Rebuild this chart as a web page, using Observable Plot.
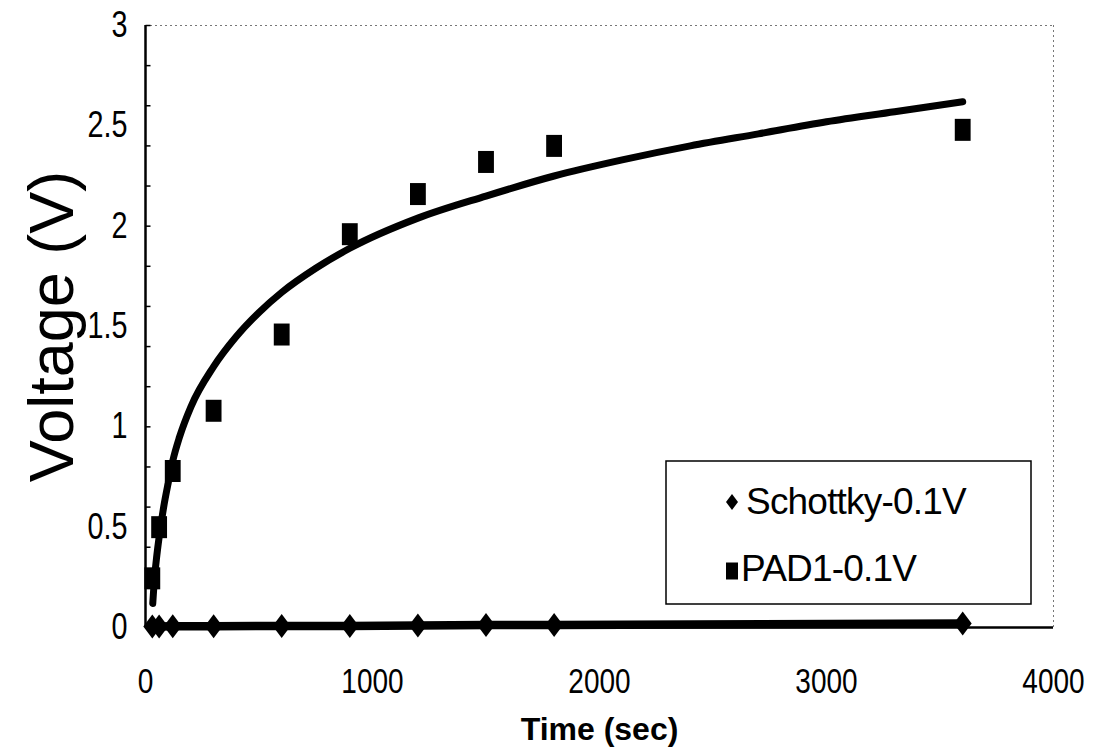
<!DOCTYPE html>
<html>
<head>
<meta charset="utf-8">
<script src="https://cdn.jsdelivr.net/npm/d3@7"></script>
<script src="https://cdn.jsdelivr.net/npm/@observablehq/plot@0.6"></script>
<style>
  html, body { margin: 0; padding: 0; background: #fff; }
  #chart { position: relative; width: 1107px; height: 754px; }
</style>
</head>
<body>
<div id="chart"></div>
<script>
// ---- data ----
const times = [30, 60, 120, 300, 600, 900, 1200, 1500, 1800, 3600];
const schottkyV = [0.005, 0.005, 0.006, 0.006, 0.008, 0.008, 0.01, 0.012, 0.012, 0.02];
const pad1V = [0.245, 0.50, 0.78, 1.08, 1.46, 1.96, 2.16, 2.32, 2.40, 2.48];

// trend curve through PAD1
const trendT = [32, 40, 50, 60, 80, 100, 120, 150, 200, 300, 400, 500, 600, 750, 900, 1200, 1500, 1800, 2100, 2400, 2700, 3000, 3300, 3600];
const trendV = [0.12, 0.25, 0.36, 0.45, 0.60, 0.72, 0.83, 0.95, 1.10, 1.30, 1.45, 1.57, 1.67, 1.79, 1.89, 2.04, 2.15, 2.25, 2.33, 2.40, 2.46, 2.52, 2.57, 2.62];

const xTicks = [0, 1000, 2000, 3000, 4000];
const yTicks = [0, 0.5, 1, 1.5, 2, 2.5, 3];
const yMinorTicks = d3.range(0, 3.001, 0.2);

const seriesNames = ["Schottky-0.1V", "PAD1-0.1V"];
const xLabel = "Time (sec)";
const yLabel = "Voltage (V)";

const schottky = times.map((t, i) => ({t, v: schottkyV[i]}));
const pad1 = times.map((t, i) => ({t, v: pad1V[i]}));
const trend = trendT.map((t, i) => ({t, v: trendV[i]}));

// custom symbols (taller than wide, as in the reference)
const tallDiamond = {
  draw(ctx, size) {
    const r = Math.sqrt(size / Math.PI);
    const w = r * 0.75, h = r;
    ctx.moveTo(0, -h); ctx.lineTo(w, 0); ctx.lineTo(0, h); ctx.lineTo(-w, 0); ctx.closePath();
  }
};
const tallSquare = {
  draw(ctx, size) {
    const r = Math.sqrt(size / Math.PI);
    const w = r * 0.72, h = r;
    ctx.moveTo(-w, -h); ctx.lineTo(w, -h); ctx.lineTo(w, h); ctx.lineTo(-w, h); ctx.closePath();
  }
};

const baseFont = "'Liberation Sans', Arial, sans-serif";

const svg = Plot.plot({
  width: 1107,
  height: 754,
  marginLeft: 145,
  marginRight: 54,
  marginTop: 25,
  marginBottom: 127,
  style: { background: "#fff", color: "#000", fontFamily: baseFont },
  x: { domain: [0, 4000] },
  y: { domain: [0, 3] },
  marks: [
    // dotted top / right border
    Plot.ruleY([3], { stroke: "#777", strokeDasharray: "2,3", strokeWidth: 1 }),
    Plot.ruleX([4000], { stroke: "#777", strokeDasharray: "2,3", strokeWidth: 1 }),
    // minor y ticks pointing into the plot
    Plot.link(yMinorTicks, { x1: 0, x2: 22, y1: d => d, y2: d => d, stroke: "#000", strokeWidth: 1.5 }),
    // labelled axes
    Plot.axisX({
      ticks: xTicks, tickSize: 0, tickPadding: 41, label: null,
      tickFormat: d => String(d), fontSize: 35, className: "xt"
    }),
    Plot.axisY({
      ticks: yTicks, tickSize: 0, tickPadding: 18, label: null,
      tickFormat: d => String(d), fontSize: 36, className: "yt"
    }),
    Plot.ruleX([0], { stroke: "#000", strokeWidth: 2.5 }),
    Plot.ruleY([0], { stroke: "#000", strokeWidth: 2.5 }),
    // axis titles
    Plot.text([xLabel], {
      frameAnchor: "bottom", text: d => d, dy: 102, lineAnchor: "middle",
      fontSize: 32, fontWeight: "bold", fill: "#000", letterSpacing: 1.5 }),
    Plot.text([yLabel], {
      frameAnchor: "left", text: d => d, rotate: -90, dx: -73, lineAnchor: "bottom",
      textAnchor: "middle", fontSize: 63, fill: "#000" }),
    // Schottky series
    Plot.line(schottky, { x: "t", y: "v", stroke: "#000", strokeWidth: 8.5 }),
    Plot.dot(schottky, { x: "t", y: "v", symbol: tallDiamond, r: 12, fill: "#000", stroke: "none" }),
    // PAD1 trend curve
    Plot.line(trend, { x: "t", y: "v", stroke: "#000", strokeWidth: 7, curve: "monotone-x", strokeLinecap: "round" }),
    // PAD1 points
    Plot.dot(pad1, { x: "t", y: "v", symbol: tallSquare, r: 11, fill: "#000", stroke: "none" })
  ]
});

// legend (drawn inside the plot area, as in the reference)
const g = d3.select(svg).append("g").attr("class", "legend").attr("text-anchor", "start");
g.append("rect").attr("x", 666).attr("y", 461).attr("width", 365).attr("height", 143)
  .attr("fill", "#fff").attr("stroke", "#000").attr("stroke-width", 1.5);
const legendSymbols = [
  "M0,-8L6,0L0,8L-6,0Z",
  "M-6,-8.5L6,-8.5L6,8.5L-6,8.5Z"
];
const legendRows = [
  { sx: 732, sy: 502, tx: 746, ty: 514 },
  { sx: 732, sy: 571, tx: 741, ty: 581 }
];
seriesNames.forEach((name, i) => {
  const r = legendRows[i];
  g.append("path").attr("d", legendSymbols[i]).attr("transform", `translate(${r.sx},${r.sy})`).attr("fill", "#000");
  g.append("text").attr("x", r.tx).attr("y", r.ty).attr("font-size", 37)
    .attr("font-family", baseFont).attr("letter-spacing", -0.8)
    .attr("text-anchor", "start").attr("fill", "#000").text(name);
});

document.getElementById("chart").appendChild(svg);

// condense the tick-label digits like the reference's narrow font
d3.select(svg).selectAll(".xt text, .yt text").each(function () {
  const len = this.getComputedTextLength();
  if (len > 0) {
    this.setAttribute("textLength", (len * 0.8).toFixed(1));
    this.setAttribute("lengthAdjust", "spacingAndGlyphs");
  }
});
</script>
</body>
</html>
